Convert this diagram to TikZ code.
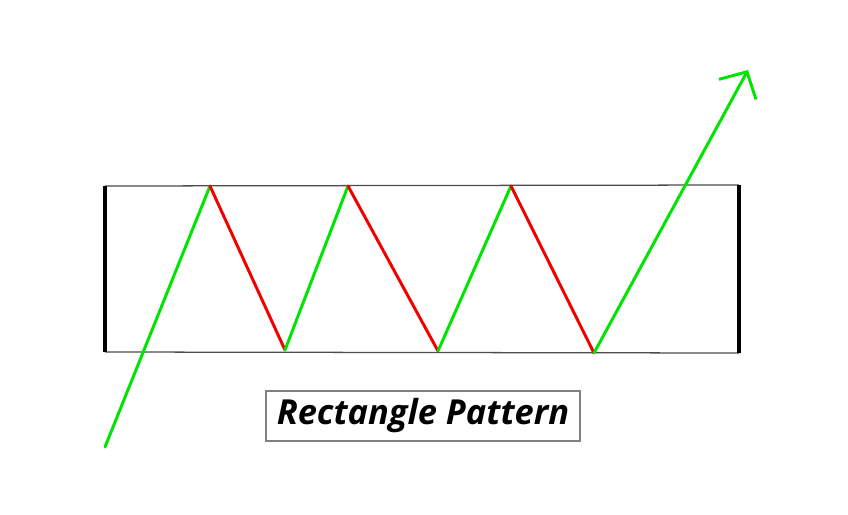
\documentclass[tikz,border=0pt]{standalone}
\usepackage{fontspec}
\setsansfont{Open Sans}
\usepackage{tikz}
\usetikzlibrary{positioning, arrows.meta, calc}

\begin{document}
\begin{tikzpicture}[
    x=0.025cm, y=-0.025cm,
    up/.style={draw=green!90!black, line width=2.1pt, line cap=round},
    down/.style={draw=red!95!black, line width=2.1pt, line cap=round},
    edge/.style={draw=black, line width=2.2pt},
    rim/.style={draw=black!70, line width=0.9pt},
    label/.style={rectangle, draw=black!50, line width=1.8pt, fill=white, minimum width=7.85cm, minimum height=1.25cm, font=\sffamily\bfseries\itshape\fontsize{24.5}{28}\selectfont}
]
    \useasboundingbox (0,0) rectangle (848,514);

    % Range corners
    \coordinate (tl) at (105,186);
    \coordinate (tr) at (739,185);
    \coordinate (bl) at (105,352);
    \coordinate (br) at (739,353);

    % Range
    \draw[rim] (tl) -- (tr);
    \draw[rim] (bl) -- (br);
    \draw[edge] (tl) -- (bl);
    \draw[edge] (tr) -- (br);

    % Swing points
    \coordinate (p0) at (105,447);
    \coordinate (h1) at (210,186);
    \coordinate (l1) at (285,350);
    \coordinate (h2) at (348,186);
    \coordinate (l2) at (438,351);
    \coordinate (h3) at (511,186);
    \coordinate (l3) at (594,353);
    \coordinate (out) at (748,70);

    % Price path
    \draw[up] (p0) -- (h1);
    \draw[down] (h1) -- (l1);
    \draw[up] (l1) -- (h2);
    \draw[down] (h2) -- (l2);
    \draw[up] (l2) -- (h3);
    \draw[down] (h3) -- (l3);
    \draw[up, -{Straight Barb[length=0.5cm, width=1.05cm, line width=2.1pt]}] (l3) -- (out);

    % Caption
    \node[label] (name) at (423,416) {Rectangle Pattern};
\end{tikzpicture}
\end{document}
